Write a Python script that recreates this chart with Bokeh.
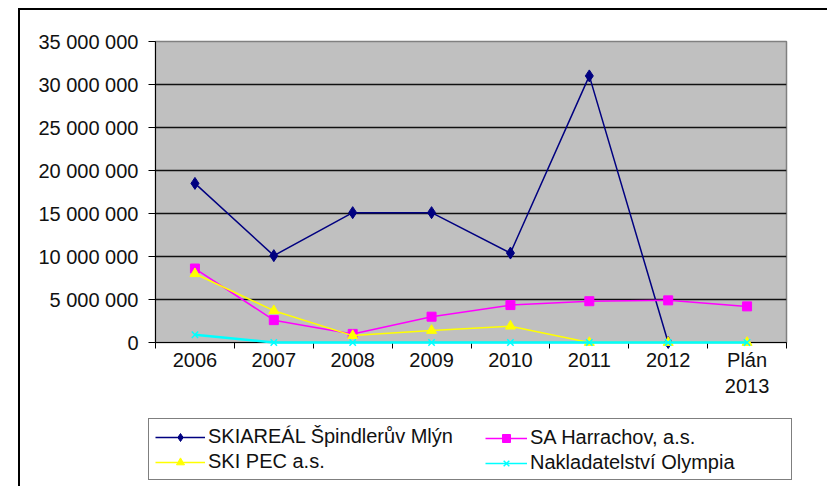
from bokeh.plotting import figure
from bokeh.layouts import column
from bokeh.models import Range1d, FixedTicker, Legend, LegendItem
from bokeh.embed import file_html
from bokeh.resources import INLINE

categories = ["2006", "2007", "2008", "2009", "2010", "2011", "2012", "Plán\n2013"]
skiareal = [18.5e6, 10.1e6, 15.1e6, 15.1e6, 10.4e6, 31.0e6, 0.0, float("nan")]
harrachov = [8.6e6, 2.6e6, 1.0e6, 3.0e6, 4.35e6, 4.8e6, 4.9e6, 4.2e6]
skipec = [8.0e6, 3.7e6, 0.8e6, 1.4e6, 1.9e6, 0.0, 0.0, 0.0]
olympia = [0.9e6, 0.0, 0.0, 0.0, 0.0, 0.0, 0.0, 0.0]
series_names = ["SKIAREÁL Špindlerův Mlýn", "SA Harrachov, a.s.", "SKI PEC a.s.", "Nakladatelství Olympia"]
y_ticks = [0, 5e6, 10e6, 15e6, 20e6, 25e6, 30e6, 35e6]
y_tick_labels = ["0", "5 000 000", "10 000 000", "15 000 000", "20 000 000",
                 "25 000 000", "30 000 000", "35 000 000"]

FONT = "Liberation Sans"
FS = "20px"

styles_ = [
    dict(color="#000080", marker="diamond", size=12, lw=1.5),
    dict(color="#FF00FF", marker="square", size=9, lw=1.5),
    dict(color="#FFFF00", marker="triangle", size=10, lw=1.5),
    dict(color="#00FFFF", marker="x", size=9, lw=2.5),
]
data = [skiareal, harrachov, skipec, olympia]

xs = [i + 0.5 for i in range(len(categories))]


def draw_series(fig, ys, st, level="glyph", scale=1.0, lw=None):
    rl = fig.line(xs, ys, line_color=st["color"], line_width=lw or st["lw"], level=level)
    if st["marker"] == "x":
        rm = fig.scatter(xs, ys, marker="x", size=st["size"] * scale, line_color=st["color"],
                         line_width=1.5, level=level)
    else:
        rm = fig.scatter(xs, ys, marker=st["marker"], size=st["size"] * scale,
                         fill_color=st["color"], line_color=st["color"], level=level)
    return rl, rm


p = figure(width=807, height=400, output_backend="svg", toolbar_location=None,
           x_range=Range1d(0, len(categories)), y_range=Range1d(0, 35e6),
           min_border_left=135, min_border_top=31, min_border_right=41, min_border_bottom=68)
p.frame_align = False
p.background_fill_color = "#C0C0C0"
p.border_fill_color = "white"
p.outline_line_color = "#808080"
p.outline_line_width = 1.5

# axes
p.xaxis.ticker = FixedTicker(ticks=xs, minor_ticks=list(range(len(categories) + 1)))
p.xaxis.major_label_overrides = {x: c for x, c in zip(xs, categories)}
p.xaxis.major_tick_out = 0
p.xaxis.major_tick_in = 0
p.xaxis.minor_tick_out = 6
p.xaxis.minor_tick_in = 0
p.xaxis.minor_tick_line_color = "black"
p.xaxis.major_label_standoff = 0
p.yaxis.ticker = FixedTicker(ticks=y_ticks)
p.yaxis.major_label_overrides = {t: l for t, l in zip(y_ticks, y_tick_labels)}
p.yaxis.major_tick_out = 7
p.yaxis.major_tick_in = 0
p.yaxis.minor_tick_out = 0
p.yaxis.minor_tick_in = 0
p.yaxis.major_label_standoff = 10
for ax in (p.xaxis, p.yaxis):
    ax.axis_line_color = "black"
    ax.major_tick_line_color = "black"
    ax.major_label_text_font = FONT
    ax.major_label_text_font_size = FS
    ax.major_label_text_color = "#111111"
p.xgrid.grid_line_color = None
p.ygrid.ticker = FixedTicker(ticks=y_ticks)
p.ygrid.grid_line_color = "#111111"
p.ygrid.grid_line_width = 1.5

for ys, st in zip(data, styles_):
    draw_series(p, ys, st, level="annotation")

# legend strip: same series, ranged out of view so only the legend shows
q = figure(width=807, height=76, output_backend="svg", toolbar_location=None,
           x_axis_type=None, y_axis_type=None,
           x_range=Range1d(0, len(categories)), y_range=Range1d(100e6, 101e6),
           min_border_left=0, min_border_right=0, min_border_top=0, min_border_bottom=0)
q.frame_align = False
q.grid.grid_line_color = None
q.outline_line_color = None
q.background_fill_color = "white"
q.border_fill_color = "white"

items = []
for name, ys, st in zip(series_names, data, styles_):
    rl, rm = draw_series(q, ys, st, scale=0.75, lw=1.5)
    items.append(LegendItem(label=name, renderers=[rl, rm]))


def make_legend(its, x, y, gw, border):
    return Legend(items=its, location=(x, y), orientation="vertical",
                  label_text_font=FONT, label_text_font_size=FS, label_text_color="#111111",
                  glyph_width=gw, glyph_height=20, label_height=20, label_standoff=3,
                  spacing=2, padding=6, margin=0,
                  border_line_color="black" if border else None, border_line_width=1,
                  background_fill_color="white",
                  background_fill_alpha=1.0 if border else 0.0)


leg1 = make_legend([items[0], items[2]], 128, 6, 50, True)
leg1.label_width = 577
leg2 = make_legend([items[1], items[3]], 465, 12, 42, False)
q.add_layout(leg1, "center")
q.add_layout(leg2, "center")

layout = column(p, q, spacing=0, margin=(8, 0, 0, 18),
                styles={"border-left": "2px solid black", "border-top": "2px solid black"})

open("out.html", "w").write(file_html(layout, INLINE))
